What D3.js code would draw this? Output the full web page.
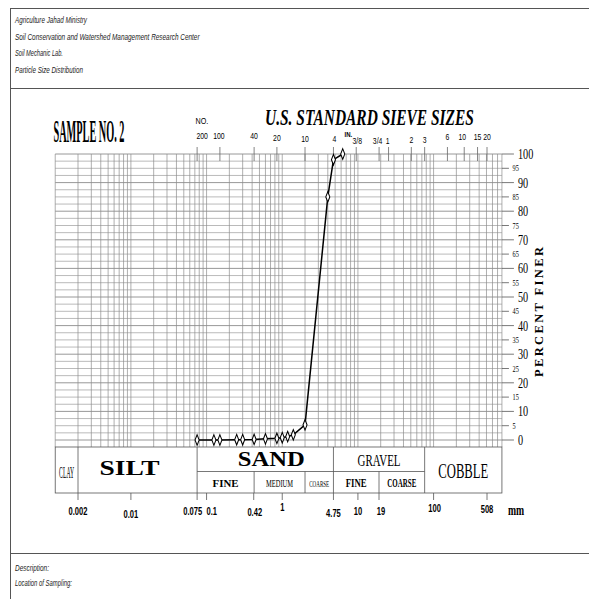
<!DOCTYPE html>
<html><head><meta charset="utf-8">
<script src="https://cdn.jsdelivr.net/npm/d3@7"></script>
<style>body{margin:0;background:#fff}svg{display:block}</style>
</head><body><svg id="c" width="589" height="599"></svg>
<script>
// ---------------- data ----------------
const headerLines = ["Agriculture Jahad Ministry","Soil Conservation and Watershed Management Research Center","Soil Mechanic Lab.","Particle Size Distribution"];
const footerLines = ["Description:","Location of Sampling:"];
const sampleTitle = "SAMPLE NO. 2";
const sieveTitle = "U.S. STANDARD SIEVE SIZES";
const yTitle = "PERCENT FINER";
const unitLabel = "mm";

const grainSize    = [0.075,0.125,0.15,0.25,0.3,0.425,0.6,0.85,1.0,1.18,1.4,2.0,4.0,4.75,6.3];
const percentFiner = [0,    0,    0,   0.1, 0.1,0.2,  0.4,0.6, 0.8,1.2, 1.8,5.3,85, 98,  100];

const sieveSizes  = [0.075,0.15,0.425,0.85,2.0,4.75,9.5,19.05,25.4,50.8,76.2,152.4,254,381,508];
const sieveLabels = ["200","100","40","20","10","4","3/8","3/4","1","2","3","6","10","15","20"];

const sizeTicks      = [0.002,0.01,0.075,0.1,0.42,1,4.75,10,19,100,508];
const sizeTickLabels = ["0.002","0.01","0.075","0.1","0.42","1","4.75","10","19","100","508"];

const percentMajor = [0,10,20,30,40,50,60,70,80,90,100];
const percentMinor = [5,15,25,35,45,55,65,75,85,95];
const percentGrid  = [0,2.5,5,7.5,10,12.5,15,17.5,20,22.5,25,27.5,30,32.5,35,37.5,40,42.5,45,47.5,50,52.5,55,57.5,60,62.5,65,67.5,70,72.5,75,77.5,80,82.5,85,87.5,90,92.5,95,97.5,100];
const gridMultipliers = [1,2,3,4,5,6,7,8,9];
const gridDecades = [0.001,0.01,0.1,1,10,100];
const sizeMin = 0.001, sizeMax = 800;

const soilClasses = ["CLAY","SILT","SAND","GRAVEL","COBBLE"];
const soilBounds  = [[0.001,0.002],[0.002,0.075],[0.075,4.75],[4.75,76.2],[76.2,800]];
const subClasses  = ["FINE","MEDIUM","COARSE","FINE","COARSE"];
const subBounds   = [[0.075,0.425],[0.425,2.0],[2.0,4.75],[4.75,19],[19,76.2]];

// ---------------- styles ----------------
const classStyle = [
  {size:16, weight:"normal", len:15, base:478, dx:0},
  {size:20, weight:"bold", len:60, base:475, dx:-8},
  {size:20, weight:"bold", len:67, base:465.5, dx:6},
  {size:17, weight:"normal", len:43, base:466, dx:0},
  {size:22, weight:"normal", len:50, base:478, dx:0}
];
const subStyle = [
  {size:10, weight:"bold", len:26, base:487},
  {size:10, weight:"normal", len:27, base:487},
  {size:9, weight:"normal", len:20, base:487},
  {size:13, weight:"bold", len:21, base:487},
  {size:12, weight:"bold", len:29, base:487}
];
const headerLen = [72,185,48,68];
const footerLen = [34,57];
const sieveDy = [0,0,0,2,3,3,5,5,5,4,4,1,1,1,1];
const sieveDx = [5,-1,0,0,0,1,1,-1.5,-1,0,0,0,-2,0,0];
const tickLabelDy = [0,3,0,0,1,-4,2,0,0,-3,-2];
const tickLabelDx = [0,0,5,0,1,0,0,0,2,1,0];

const SERIF = "'Liberation Serif','Times New Roman',serif";
const SANS = "'Liberation Sans',Arial,sans-serif";
const gridColor = "#8c8c8c";
const frameColor = "#555";

const svg = d3.select("#c");
const x = d3.scaleLog().domain([0.002,508]).range([78,487]);
const y = d3.scaleLinear().domain([0,100]).range([440,154]);
const xL = x(sizeMin), xR = x(sizeMax);
const bandTop = 447, bandMid = 471.5, bandBot = 493;

// squeeze a text horizontally to a target width (left-anchored)
function fitText(sel, x0, y0, width){
  sel.each(function(){
    const w = this.getComputedTextLength();
    d3.select(this).attr("transform",`translate(${x0},${y0}) scale(${width/w},1)`);
  });
}

// frame
const frame = svg.append("g").attr("stroke",frameColor).attr("stroke-width",1);
frame.append("line").attr("x1",10).attr("x2",589).attr("y1",8.5).attr("y2",8.5);
frame.append("line").attr("x1",10.5).attr("x2",10.5).attr("y1",8).attr("y2",599);
frame.append("line").attr("x1",10).attr("x2",589).attr("y1",88.5).attr("y2",88.5);
frame.append("line").attr("x1",10).attr("x2",589).attr("y1",553.5).attr("y2",553.5);

// header & footer
svg.selectAll(".hdr").data(headerLines).join("text").attr("class","hdr")
  .style("font-family",SANS).style("font-style","italic").style("font-size","9px").attr("fill","#222")
  .text(d=>d)
  .each(function(d,i){ fitText(d3.select(this),15,23+i*16.7,headerLen[i]); });
svg.selectAll(".ftr").data(footerLines).join("text").attr("class","ftr")
  .style("font-family",SANS).style("font-style","italic").style("font-size","9px").attr("fill","#222")
  .text(d=>d)
  .each(function(d,i){ fitText(d3.select(this),15,571+i*15,footerLen[i]); });

// titles
fitText(svg.append("text").style("font-family",SERIF).style("font-weight","bold").style("font-size","31px").text(sampleTitle), 53.5, 141.5, 71);
fitText(svg.append("text").style("font-family",SERIF).style("font-weight","bold").style("font-style","italic").style("font-size","23px").text(sieveTitle), 265, 124.5, 209);

// grid
const grid = svg.append("g").attr("stroke",gridColor).attr("stroke-width",0.7);
const vLines = [];
gridDecades.forEach(dec=>gridMultipliers.forEach(m=>{const v=+(dec*m).toPrecision(3); if(v>=sizeMin && v<=sizeMax) vLines.push(v);}));
grid.selectAll(".v").data(vLines).join("line").attr("class","v")
  .attr("x1",d=>x(d)).attr("x2",d=>x(d)).attr("y1",y(100)).attr("y2",bandTop);
grid.selectAll(".h").data(percentGrid).join("line").attr("class","h")
  .attr("x1",xL).attr("x2",xR).attr("y1",d=>y(d)).attr("y2",d=>y(d))
  .attr("stroke-width",d=>d%10===0?0.9:0.6);

// right axis ticks & labels
const ax = svg.append("g");
ax.selectAll(".mt").data(percentMajor).join("line").attr("class","mt")
  .attr("x1",xR).attr("x2",xR+12).attr("y1",d=>y(d)).attr("y2",d=>y(d)).attr("stroke","#555").attr("stroke-width",0.8);
ax.selectAll(".nt").data(percentMinor).join("line").attr("class","nt")
  .attr("x1",xR).attr("x2",xR+7).attr("y1",d=>y(d)).attr("y2",d=>y(d)).attr("stroke","#555").attr("stroke-width",0.8);
ax.selectAll(".ml").data(percentMajor).join("text").attr("class","ml")
  .attr("transform",d=>`translate(518,${y(d)+5}) scale(0.68,1)`)
  .style("font-family",SERIF).style("font-size","15px").text(d=>d);
ax.selectAll(".nl").data(percentMinor).join("text").attr("class","nl")
  .attr("transform",d=>`translate(512.5,${y(d)+3}) scale(0.7,1)`)
  .style("font-family",SERIF).style("font-size","9px").text(d=>d);
svg.append("text").attr("transform","translate(543,377) rotate(-90)")
  .attr("textLength",130).attr("lengthAdjust","spacing")
  .style("font-family",SERIF).style("font-weight","bold").style("font-size","12.5px").text(yTitle);

// sieve ticks & labels (top)
const topG = svg.append("g");
topG.selectAll(".st").data(sieveSizes).join("line").attr("class","st")
  .attr("x1",d=>x(d)).attr("x2",d=>x(d)).attr("y1",147).attr("y2",161).attr("stroke","#666").attr("stroke-width",0.8);
topG.selectAll(".sl").data(sieveLabels).join("text").attr("class","sl")
  .attr("text-anchor","middle")
  .attr("transform",(d,i)=>`translate(${x(sieveSizes[i])+sieveDx[i]},${138.5+sieveDy[i]}) scale(0.72,1)`)
  .style("font-family",SANS).style("font-size","9.5px").text(d=>d);
topG.append("text").attr("transform","translate(195.5,124) scale(0.8,1)").style("font-family",SANS).style("font-size","9px").text("NO.");
topG.append("text").attr("transform","translate(344.5,136.5) scale(0.8,1)").style("font-family",SANS).style("font-weight","bold").style("font-size","7.5px").text("IN.");

// classification band
const band = svg.append("g").attr("stroke","#555").attr("stroke-width",0.8).attr("fill","none");
band.append("rect").attr("x",xL).attr("y",bandTop).attr("width",xR-xL).attr("height",bandBot-bandTop);
band.selectAll(".cb").data(soilBounds.slice(1)).join("line").attr("class","cb")
  .attr("x1",d=>x(d[0])).attr("x2",d=>x(d[0])).attr("y1",bandTop).attr("y2",bandBot);
band.append("line").attr("x1",x(0.075)).attr("x2",x(76.2)).attr("y1",bandMid).attr("y2",bandMid);
band.selectAll(".sb").data(subBounds.filter((d,i)=>i!==0 && i!==3)).join("line").attr("class","sb")
  .attr("x1",d=>x(d[0])).attr("x2",d=>x(d[0])).attr("y1",bandMid).attr("y2",bandBot);
band.selectAll(".bt").data(sizeTicks).join("line").attr("class","bt")
  .attr("x1",d=>x(d)).attr("x2",d=>x(d)).attr("y1",bandBot).attr("y2",bandBot+7);

svg.selectAll(".cl").data(soilClasses).join("text").attr("class","cl")
  .style("font-family",SERIF).style("font-weight",(d,i)=>classStyle[i].weight)
  .style("font-size",(d,i)=>classStyle[i].size+"px").text(d=>d)
  .each(function(d,i){
    const s=classStyle[i], c=(x(soilBounds[i][0])+x(soilBounds[i][1]))/2+s.dx;
    fitText(d3.select(this), c-s.len/2, s.base, s.len);
  });
svg.selectAll(".sc").data(subClasses).join("text").attr("class","sc")
  .style("font-family",SERIF).style("font-weight",(d,i)=>subStyle[i].weight)
  .style("font-size",(d,i)=>subStyle[i].size+"px").text(d=>d)
  .each(function(d,i){
    const s=subStyle[i], c=(x(subBounds[i][0])+x(subBounds[i][1]))/2;
    fitText(d3.select(this), c-s.len/2, s.base, s.len);
  });

// bottom size labels
svg.selectAll(".bl").data(sizeTickLabels).join("text").attr("class","bl")
  .attr("text-anchor",(d,i)=>i===2?"end":(i===3?"start":"middle"))
  .attr("transform",(d,i)=>`translate(${x(sizeTicks[i])+tickLabelDx[i]},${515+tickLabelDy[i]}) scale(0.72,1)`)
  .style("font-family",SANS).style("font-weight","bold").style("font-size","10.5px").text(d=>d);
svg.append("text").attr("transform","translate(508,515) scale(0.65,1)")
  .style("font-family",SERIF).style("font-weight","bold").style("font-size","15px").text(unitLabel);

// data curve
const pts = grainSize.map((g,i)=>[x(g),y(percentFiner[i])]);
svg.append("path").attr("d",d3.line()(pts)).attr("fill","none").attr("stroke","#000").attr("stroke-width",1.5);
svg.selectAll(".pt").data(pts).join("path").attr("class","pt")
  .attr("transform",d=>`translate(${d[0]},${d[1]}) scale(0.8,1.2)`)
  .attr("d",d3.symbol(d3.symbolDiamond,22)()).attr("fill","#fff").attr("stroke","#000").attr("stroke-width",1.2);
</script></body></html>
